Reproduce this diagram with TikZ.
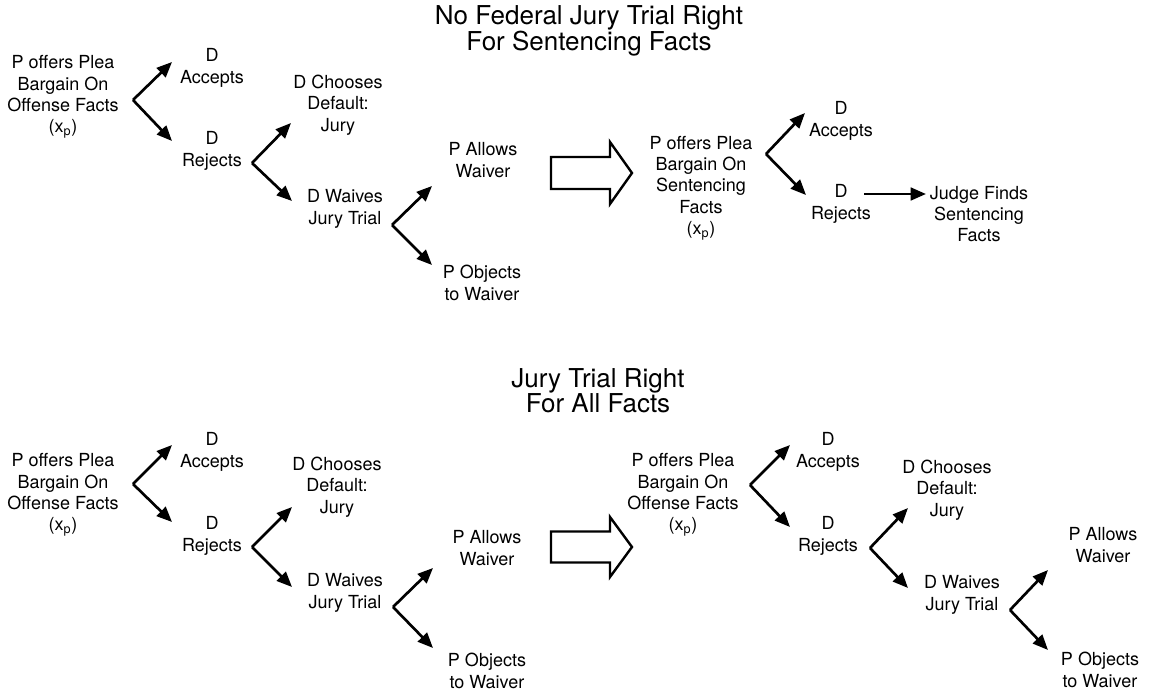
\documentclass[tikz,border=0pt]{standalone}
\usepackage{fontspec}
\setmainfont{TeX Gyre Heros}
\usetikzlibrary{arrows.meta}

\newcommand{\xpmark}{(x\textsubscript{p})}

\tikzset{
  choice/.style={align=center,inner sep=0pt,font=\fontsize{13.5}{16}\selectfont},
  heading/.style={align=center,inner sep=0pt,font=\fontsize{19.5}{19}\selectfont},
  move/.style={line width=2pt,-{Triangle[length=11.5pt,width=9.5pt]}},
  bigarrow/.style={line width=1.8pt,line join=miter}
}

\begin{document}
\begin{tikzpicture}[x=0.75pt,y=-0.75pt]
\useasboundingbox (0,0) rectangle (1150,692);

\node[heading] (title1) at (589,31) {No Federal Jury Trial Right\\For Sentencing Facts};
\node[heading] (title2) at (598,391) {Jury Trial Right\\For All Facts};

\foreach \name/\x/\y/\txt in {
  root1/63/97/{P offers Plea\\Bargain On\\Offense Facts\\\xpmark},
  acc1/212/68/{D\\Accepts},
  rej1/212/151/{D\\Rejects},
  choose1/338/105/{D Chooses\\Default:\\Jury},
  waive1/345/209/{D Waives\\Jury Trial},
  allow1/483/160/{P Allows\\Waiver},
  object1/482/283/{P Objects\\to Waiver},
  root2/701/188/{P offers Plea\\Bargain On\\Sentencing\\Facts\\\xpmark},
  acc2/841/121/{D\\Accepts},
  rej2/841/204/{D\\Rejects},
  judge/979/214/{Judge Finds\\Sentencing\\Facts},
  root3/63/495/{P offers Plea\\Bargain On\\Offense Facts\\\xpmark},
  acc3/212/452/{D\\Accepts},
  rej3/212/536/{D\\Rejects},
  choose3/337/487/{D Chooses\\Default:\\Jury},
  waive3/345/593/{D Waives\\Jury Trial},
  allow3/487/548/{P Allows\\Waiver},
  object3/487/671/{P Objects\\to Waiver},
  root4/683/495/{P offers Plea\\Bargain On\\Offense Facts\\\xpmark},
  acc4/828/452/{D\\Accepts},
  rej4/828/536/{D\\Rejects},
  choose4/947/490/{D Chooses\\Default:\\Jury},
  waive4/962/595/{D Waives\\Jury Trial},
  allow4/1103/545/{P Allows\\Waiver},
  object4/1100/670/{P Objects\\to Waiver}} {
  \node[choice] (\name) at (\x,\y) {\txt};
}

\foreach \fork/\vx/\vy/\ux/\uy/\lx/\ly in {
  f1/133/100/172/62/172/141,
  f2/252/163/291/123/292/201,
  f3/392/225/432/186/432/265,
  f4/766/154/805/113/806/195,
  f5/133/484/172/445/172/522,
  f6/252/547/292/507/292/587,
  f7/393/607/433/568/433/648,
  f8/750/485/790/445/790/527,
  f9/870/548/908/508/908/588,
  f10/1010/610/1048/570/1048/650} {
  \coordinate (\fork) at (\vx,\vy);
  \coordinate (\fork up) at (\ux,\uy);
  \coordinate (\fork down) at (\lx,\ly);
  \draw[move] (\fork) -- (\fork up);
  \draw[move] (\fork) -- (\fork down);
}

\coordinate (rej2 out) at (864,194);
\coordinate (judge in) at (926,194);
\draw[move] (rej2 out) -- (judge in);

\foreach \y/\shaft/\head in {173/16/31,547/15.5/30} {
  \draw[bigarrow] (551,\y-\shaft) -- (610,\y-\shaft) -- (610,\y-\head)
    -- (632,\y) -- (610,\y+\head) -- (610,\y+\shaft) -- (551,\y+\shaft) -- cycle;
}
\end{tikzpicture}
\end{document}
